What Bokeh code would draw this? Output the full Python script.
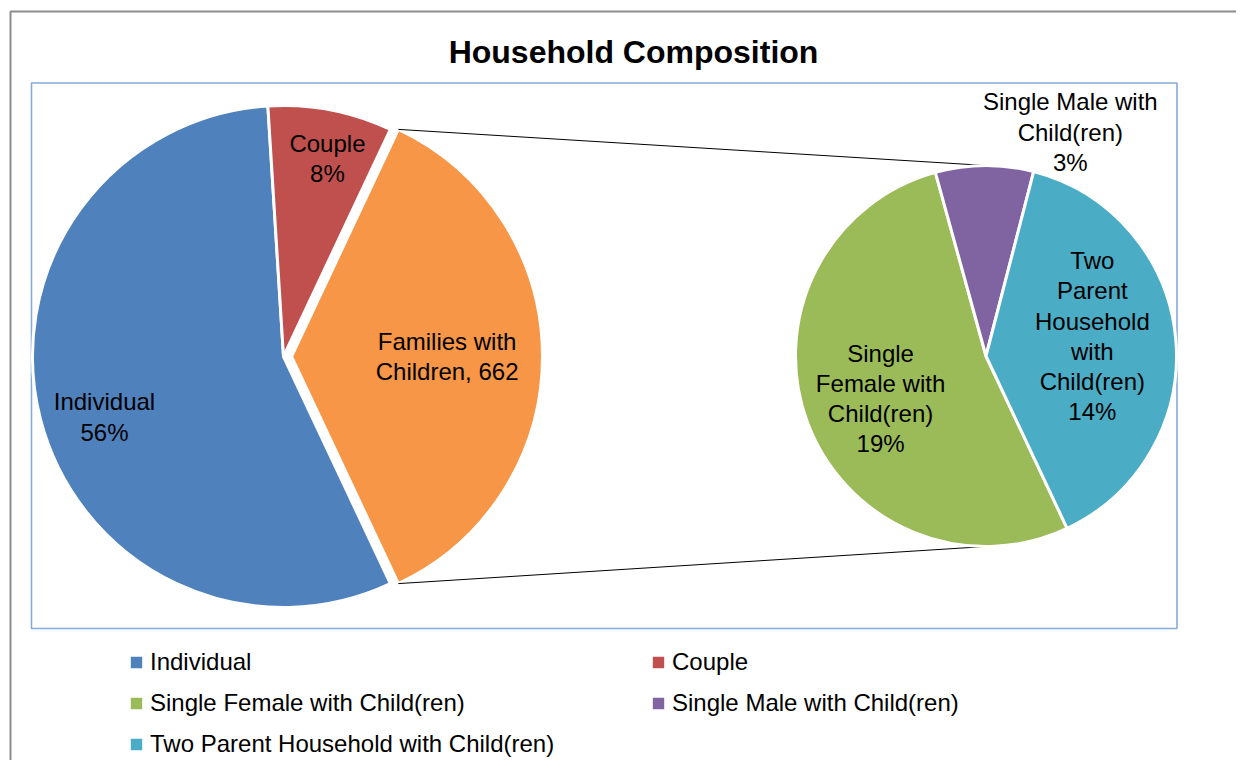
import math
from bokeh.plotting import figure
from bokeh.models import Range1d, Legend, LegendItem
from bokeh.core.properties import value
from bokeh.embed import file_html
from bokeh.resources import INLINE

# ---------------- data ----------------
title_text = "Household Composition"
main_categories = ["Individual", "Couple"]
main_counts = [1030, 147]
other_category = "Families with Children"
sub_categories = ["Single Female with Child(ren)", "Single Male with Child(ren)",
                  "Two Parent Household with Child(ren)"]
sub_counts = [349, 55, 258]

main_colors = ["#4F81BD", "#C0504D"]
other_color = "#F79646"
sub_colors = ["#9BBB59", "#8064A2", "#4BACC6"]

# wrapped label names (layout of the data labels)
main_label_lines = [["Individual"], ["Couple"]]
other_label_lines = ["Families with", "Children, {v}"]
sub_label_lines = [["Single", "Female with", "Child(ren)"],
                   ["Single Male with", "Child(ren)"],
                   ["Two", "Parent", "Household", "with", "Child(ren)"]]

# ---------------- layout ----------------
W, H = 1236, 760
def sx(X):  # picture pixel -> data x
    return X
def sy(Y):  # picture pixel -> data y
    return H - Y

C1 = (sx(283), sy(356)); R1 = 251
C2 = (sx(985.5), sy(355.5)); R2 = 190.5
EXPLODE = 8
FONT_NAME = "Liberation Sans"
FONT = value(FONT_NAME)
LABEL_SIZE = "24px"

# label placement: (radius fraction, angle offset deg)
main_label_pos = [(0.753, 4.3), (0.808, -1.7)]
other_label_pos = (0.62, 0.0)
sub_label_pos = [(0.597, 1.7), (1.256, -21.1), (0.568, 5.2)]

p = figure(width=W, height=H, output_backend="svg", toolbar_location=None,
           x_range=Range1d(0, W), y_range=Range1d(0, H),
           x_axis_type=None, y_axis_type=None, min_border=0)
p.grid.visible = False
p.outline_line_color = None
p.background_fill_color = "white"
p.border_fill_color = "white"

# outer chart frame and plot area border
p.quad(left=[sx(10)], right=[sx(1400)], top=[sy(11)], bottom=[sy(1000)],
       fill_color=None, line_color="#8C8C8C", line_width=2)
p.quad(left=[sx(31)], right=[sx(1176.5)], top=[sy(82.5)], bottom=[sy(628)],
       fill_color=None, line_color="#88AADC", line_width=1.6)

total = sum(main_counts) + sum(sub_counts)
other_total = sum(sub_counts)
start = -math.radians(other_total / total * 360 / 2)

renderers = {}
def pct(v):
    return f"{round(v / total * 100)}%"

texts_x, texts_y, texts = [], [], []

# main pie, clockwise from start
a = start
for cat, v, col, lines, (f, da) in zip(main_categories, main_counts, main_colors,
                                       main_label_lines, main_label_pos):
    span = v / total * 2 * math.pi
    a_end = a - span
    r = p.wedge(x=[C1[0]], y=[C1[1]], radius=R1, start_angle=[a_end], end_angle=[a],
                fill_color=col, line_color="white", line_width=3)
    renderers[cat] = r
    mid = (a + a_end) / 2 + math.radians(da)
    texts_x.append(C1[0] + f * R1 * math.cos(mid))
    texts_y.append(C1[1] + f * R1 * math.sin(mid))
    texts.append("\n".join(lines + [pct(v)]))
    a = a_end

# "other" slice (exploded)
span = other_total / total * 2 * math.pi
o_start, o_end = a, a - span
mid_o = (o_start + o_end) / 2
OC = (C1[0] + EXPLODE * math.cos(mid_o), C1[1] + EXPLODE * math.sin(mid_o))
p.wedge(x=[OC[0]], y=[OC[1]], radius=R1, start_angle=[o_end], end_angle=[o_start],
        fill_color=other_color, line_color="white", line_width=3)
f, da = other_label_pos
texts_x.append(OC[0] + f * R1 * math.cos(mid_o + math.radians(da)))
texts_y.append(OC[1] + f * R1 * math.sin(mid_o + math.radians(da)))
texts.append("\n".join([other_label_lines[0], other_label_lines[1].format(v=other_total)]))

# connector lines
p.segment(x0=[OC[0] + R1 * math.cos(o_start), OC[0] + R1 * math.cos(o_end)],
          y0=[OC[1] + R1 * math.sin(o_start), OC[1] + R1 * math.sin(o_end)],
          x1=[C2[0], C2[0]], y1=[C2[1] + R2, C2[1] - R2],
          line_color="#000000", line_width=1)

# sub pie, clockwise from start
a = start
for cat, v, col, lines, (f, da) in zip(sub_categories, sub_counts, sub_colors,
                                       sub_label_lines, sub_label_pos):
    sp = v / other_total * 2 * math.pi
    a_end = a - sp
    r = p.wedge(x=[C2[0]], y=[C2[1]], radius=R2, start_angle=[a_end], end_angle=[a],
                fill_color=col, line_color="white", line_width=3)
    renderers[cat] = r
    mid = (a + a_end) / 2 + math.radians(da)
    texts_x.append(C2[0] + f * R2 * math.cos(mid))
    texts_y.append(C2[1] + f * R2 * math.sin(mid))
    texts.append("\n".join(lines + [pct(v)]))
    a = a_end

p.text(x=texts_x, y=texts_y, text=texts, text_font=FONT, text_font_size=LABEL_SIZE,
       text_align="center", text_baseline="middle", text_line_height=1.12,
       text_color="#000000")

# title
p.text(x=[sx(633)], y=[sy(51)], text=[title_text], text_font=FONT,
       text_font_size="32px", text_font_style="bold", text_align="center",
       text_baseline="middle", text_color="#000000")

# legends (two columns)
col1 = [main_categories[0], sub_categories[0], sub_categories[2]]
col2 = [main_categories[1], sub_categories[1]]
def make_legend(cats, loc):
    lg = Legend(items=[LegendItem(label=c, renderers=[renderers[c]]) for c in cats],
                location=loc, orientation="vertical",
                label_text_font=FONT_NAME, label_text_font_size=LABEL_SIZE,
                label_text_color="#000000",
                glyph_width=18, glyph_height=18, label_standoff=5,
                spacing=13, padding=0, margin=0,
                border_line_color=None, background_fill_alpha=0)
    p.add_layout(lg, "center")
    return lg

make_legend(col1, (127, 2))
make_legend(col2, (649, 43))

open("out.html", "w").write(file_html(p, INLINE))
